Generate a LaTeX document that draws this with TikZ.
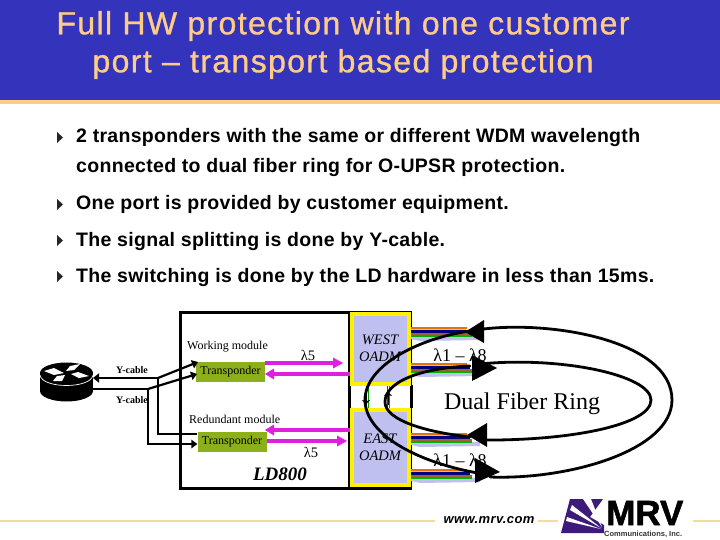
\documentclass[tikz,border=0pt]{standalone}
\usepackage{fontspec}
\setmainfont{Liberation Sans}
\newfontfamily\serifr{Liberation Serif}
\newfontfamily\mrvfont[FakeBold=1.5]{Liberation Sans Bold}
\newfontfamily\titlefont[LetterSpace=4.3,FakeBold=1.0]{Liberation Sans}
\newfontfamily\bulletfont[LetterSpace=1.6]{Liberation Sans Bold}
\newfontfamily\wwwfont[LetterSpace=3]{Liberation Sans Bold Italic}
\usetikzlibrary{arrows.meta}
\definecolor{hdrblue}{HTML}{3333BB}
\definecolor{hdrtan}{HTML}{FFCC88}
\definecolor{olive}{HTML}{8DB01A}
\definecolor{lav}{HTML}{C0C0F0}
\definecolor{magen}{HTML}{E020E0}
\definecolor{goldl}{HTML}{F0DC9C}
\definecolor{mrvpurple}{HTML}{3C1C78}
\newcommand{\bundle}[1]{%
  \fill[lav] (411,#1+8) -- (480,#1+8) -- (480,#1+12) -- (420,#1+13) -- (411,#1+11) -- cycle;
  \draw[line width=2.2pt,orange!90!black] (411,#1) -- (467,#1);
  \draw[line width=2pt,yellow!85!black] (411,#1+2) -- (466,#1+2);
  \draw[line width=2.4pt,blue!50!black] (411,#1+3.5) -- (470,#1+3.5);
  \draw[line width=2pt,brown!80!black] (411,#1+5.7) -- (472,#1+5.7);
  \draw[line width=2.4pt,green!70!black] (411,#1+8) -- (472,#1+8);
}
\tikzset{
  titletext/.style={text=hdrtan,font=\titlefont\fontsize{32}{32}\selectfont,anchor=center,inner sep=0},
  bullettext/.style={font=\bulletfont\fontsize{19.5}{20}\selectfont,anchor=base west,inner sep=0},
  bulletmark/.style={fill=black!85},
  modbox/.style={fill=olive,minimum width=69,minimum height=20,inner sep=0,font=\serifr\fontsize{12}{12}\selectfont},
  oadm/.style={fill=lav,draw=yellow,line width=4pt,inner sep=0,align=center,font=\serifr\itshape\fontsize{14.5}{16.5}\selectfont},
  label/.style={font=\serifr\fontsize{12}{13}\selectfont,inner sep=0},
  lam/.style={font=\serifr\fontsize{18}{18}\selectfont,inner sep=0},
  lamsmall/.style={font=\serifr\fontsize{14.5}{14.5}\selectfont,inner sep=0},
  ycable/.style={font=\serifr\bfseries\fontsize{10}{10}\selectfont,inner sep=0},
  cable/.style={line width=2.2pt,black},
  cablearrow/.style={cable,-{Triangle[length=6,width=8.5]}},
  fiber/.style={line width=3.2pt,magen},
  ring/.style={line width=2.8pt,black,line cap=round},
}
\begin{document}
\begin{tikzpicture}[x=1pt,y=-1pt]
\useasboundingbox (0,0) rectangle (720,540);
\fill[white] (0,0) rectangle (720,540);
% header
\fill[hdrblue] (0,0) rectangle (720,100);
\fill[hdrtan] (0,100) rectangle (720,104);
\node[titletext] (t1) at (343,26) {Full HW protection with one customer};
\node[titletext] (t2) at (343,64) {port – transport based protection};
% bullets
\foreach \yy in {143,210,246,282}{\fill[bulletmark] (57,\yy-11) -- (63,\yy-5.5) -- (57,\yy) -- cycle;}
\node[bullettext] (b1) at (76,143) {2 transponders with the same or different WDM wavelength};
\node[bullettext] (b1b) at (76,173) {connected to dual fiber ring for O-UPSR protection.};
\node[bullettext] (b2) at (76,210) {One port is provided by customer equipment.};
\node[bullettext] (b3) at (76,246) {The signal splitting is done by Y-cable.};
\node[bullettext] (b4) at (76,282) {The switching is done by the LD hardware in less than 15ms.};
% footer line
\draw[goldl,line width=1.5pt] (0,521) -- (435,521);
\draw[goldl,line width=1.5pt] (538,521) -- (558,521);
\draw[goldl,line width=1.5pt] (693,521) -- (720,521);
\node[font=\wwwfont\fontsize{13}{14}\selectfont,inner sep=0] (www) at (489,520) {www.mrv.com};
% logo
\fill[mrvpurple] (570,499) -- (603,499) -- (590,517) -- (604,525) -- (604,533) -- (561,533) -- cycle;
\fill[white] (602,527) -- (583,499) -- (591,499) -- cycle;
\fill[white] (601,528) -- (570,510) -- (572,505) -- cycle;
\fill[white] (601,529) -- (566,521) -- (567,517) -- cycle;
\node[font=\mrvfont\fontsize{35}{35}\selectfont,inner sep=0,anchor=base west] (mrv) at (606,525) {MRV};
\node[font=\bfseries\fontsize{7.5}{8}\selectfont,inner sep=0,anchor=base west,text=black!80] (comm) at (604,536) {Communications, Inc.};
% LD800 frame
\draw[black,line width=3pt] (180,312) rectangle (349,488);
\draw[black,line width=3pt] (411,385) -- (411,408);
\draw[black,line width=3pt] (349,385) -- (349,408);
% OADM
\fill[black] (347.5,310.5) rectangle (411.5,385.5);
\fill[black] (347.5,408) rectangle (411.5,489.5);
\node[oadm,minimum width=57,minimum height=70] (west) at (380,348.5) {WEST\\OADM};
\node[oadm,minimum width=57,minimum height=75] (east) at (380,447.5) {EAST\\OADM};
% between OADMs
\draw[blue!50!black,line width=1pt] (366,386) -- (366,408);
\draw[green!60!black,line width=1.6pt] (368.3,386) -- (368.3,408);
\draw[purple,line width=1pt] (387,386) -- (387,408);
\draw[green!60!black,line width=1.6pt] (389.5,386) -- (389.5,408);
\draw[black,line width=.8pt,-{Stealth[length=4,width=8]}] (366,392) -- (366,404);
\draw[black,line width=.8pt,-{Stealth[length=4,width=8]}] (388,405) -- (388,392);
% transponders
\node[modbox] (tp1) at (230.5,371.5) {Transponder};
\node[modbox] (tp2) at (232,441.5) {Transponder};
% magenta arrows
\draw[fiber] (tp1.east |- 0,363) -- (335,363);
\fill[magen] (343,363) -- (333,357.5) -- (333,368.5) -- cycle;
\draw[fiber] (west.west |- 0,374) -- (272,374);
\fill[magen] (265,374) -- (274,368.5) -- (274,379.5) -- cycle;
\draw[fiber] (east.west |- 0,430) -- (272,430);
\fill[magen] (265,430) -- (274,424.5) -- (274,435.5) -- cycle;
\draw[fiber] (tp2.east |- 0,441) -- (339,441);
\fill[magen] (347,441) -- (337,435.5) -- (337,446.5) -- cycle;
% router
\coordinate (r1) at (93,378);
\coordinate (r2) at (93,389);
\node[draw=none,inner sep=0,minimum size=1] (router) at (67,382) {};
\fill[black] (40,373) rectangle (93,391);
\fill[black] (66.5,391) ellipse[x radius=26.5,y radius=10.5];
\fill[black] (66.5,373) ellipse[x radius=26.5,y radius=10.5];
\draw[white,line width=.7pt] (40,375) .. controls (42,389) and (91,389) .. (93,375);
\fill[white] (44,371) -- (54,368) -- (64,373) -- (54,375) -- cycle;
\fill[white] (66,371) -- (70,366) -- (80,364) -- (74,370) -- cycle;
\fill[white] (71,374) -- (78,372) -- (89,376) -- (79,378) -- cycle;
\fill[white] (53,381) -- (57,376) -- (65,375) -- (62,381) -- cycle;
% cables
\coordinate (j1) at (158,378);
\coordinate (j2) at (148,389);
\draw[cable,-{Triangle[length=6,width=9]}] (j1) -- (r1);
\draw[cable] (j2) -- (r2);
\draw[cablearrow] (j1) -- (198,362);
\draw[cablearrow] (j2) -- (197,374);
\draw[cable] (j1) -- (158,434) -- (tp2.west |- 0,434);
\draw[cablearrow] (j2) -- (148,444) -- (tp2.west |- 0,444);
% labels
\node[label,anchor=west] (lw) at (187,347) {Working module};
\node[label,anchor=west] (lr) at (189,419) {Redundant module};
\node[ycable] (y1) at (132,370) {Y-cable};
\node[ycable] (y2) at (132,400) {Y-cable};
\node[lamsmall] (l5a) at (308,355) {λ5};
\node[lamsmall] (l5b) at (311,452) {λ5};
\node[font=\serifr\bfseries\itshape\fontsize{19}{19}\selectfont,inner sep=0] (ld) at (280,474) {LD800};
% fiber bundles
\bundle{328}
\bundle{364}
\bundle{434}
\bundle{470}
\node[lam] (l18a) at (460,355) {λ1 – λ8};
\node[lam] (l18b) at (460,460) {λ1 – λ8};
\node[font=\serifr\fontsize{24}{24}\selectfont,inner sep=0] (dfr) at (522,404) {Dual Fiber Ring};
% rings
\draw[ring] (470,331) .. controls (420,338) and (365,365) .. (365,400) .. controls (365,435) and (420,465) .. (490,475);
\draw[ring] (470,331) .. controls (540,318) and (672,338) .. (672,400) .. controls (672,450) and (570,480) .. (490,477);
\draw[ring] (470,366) .. controls (420,368) and (385,382) .. (385,402) .. controls (385,420) and (425,432) .. (470,437);
\draw[ring] (480,364) .. controls (560,356) and (651,375) .. (651,400) .. controls (651,425) and (570,441) .. (480,440);
\fill[black] (465,332) -- (484,320) -- (484,343) -- cycle;
\fill[black] (497,368) -- (472,355) -- (472,381) -- cycle;
\fill[black] (467,435) -- (487,423) -- (487,447) -- cycle;
\fill[black] (500,472) -- (475,458) -- (475,483) -- cycle;
\end{tikzpicture}
\end{document}
